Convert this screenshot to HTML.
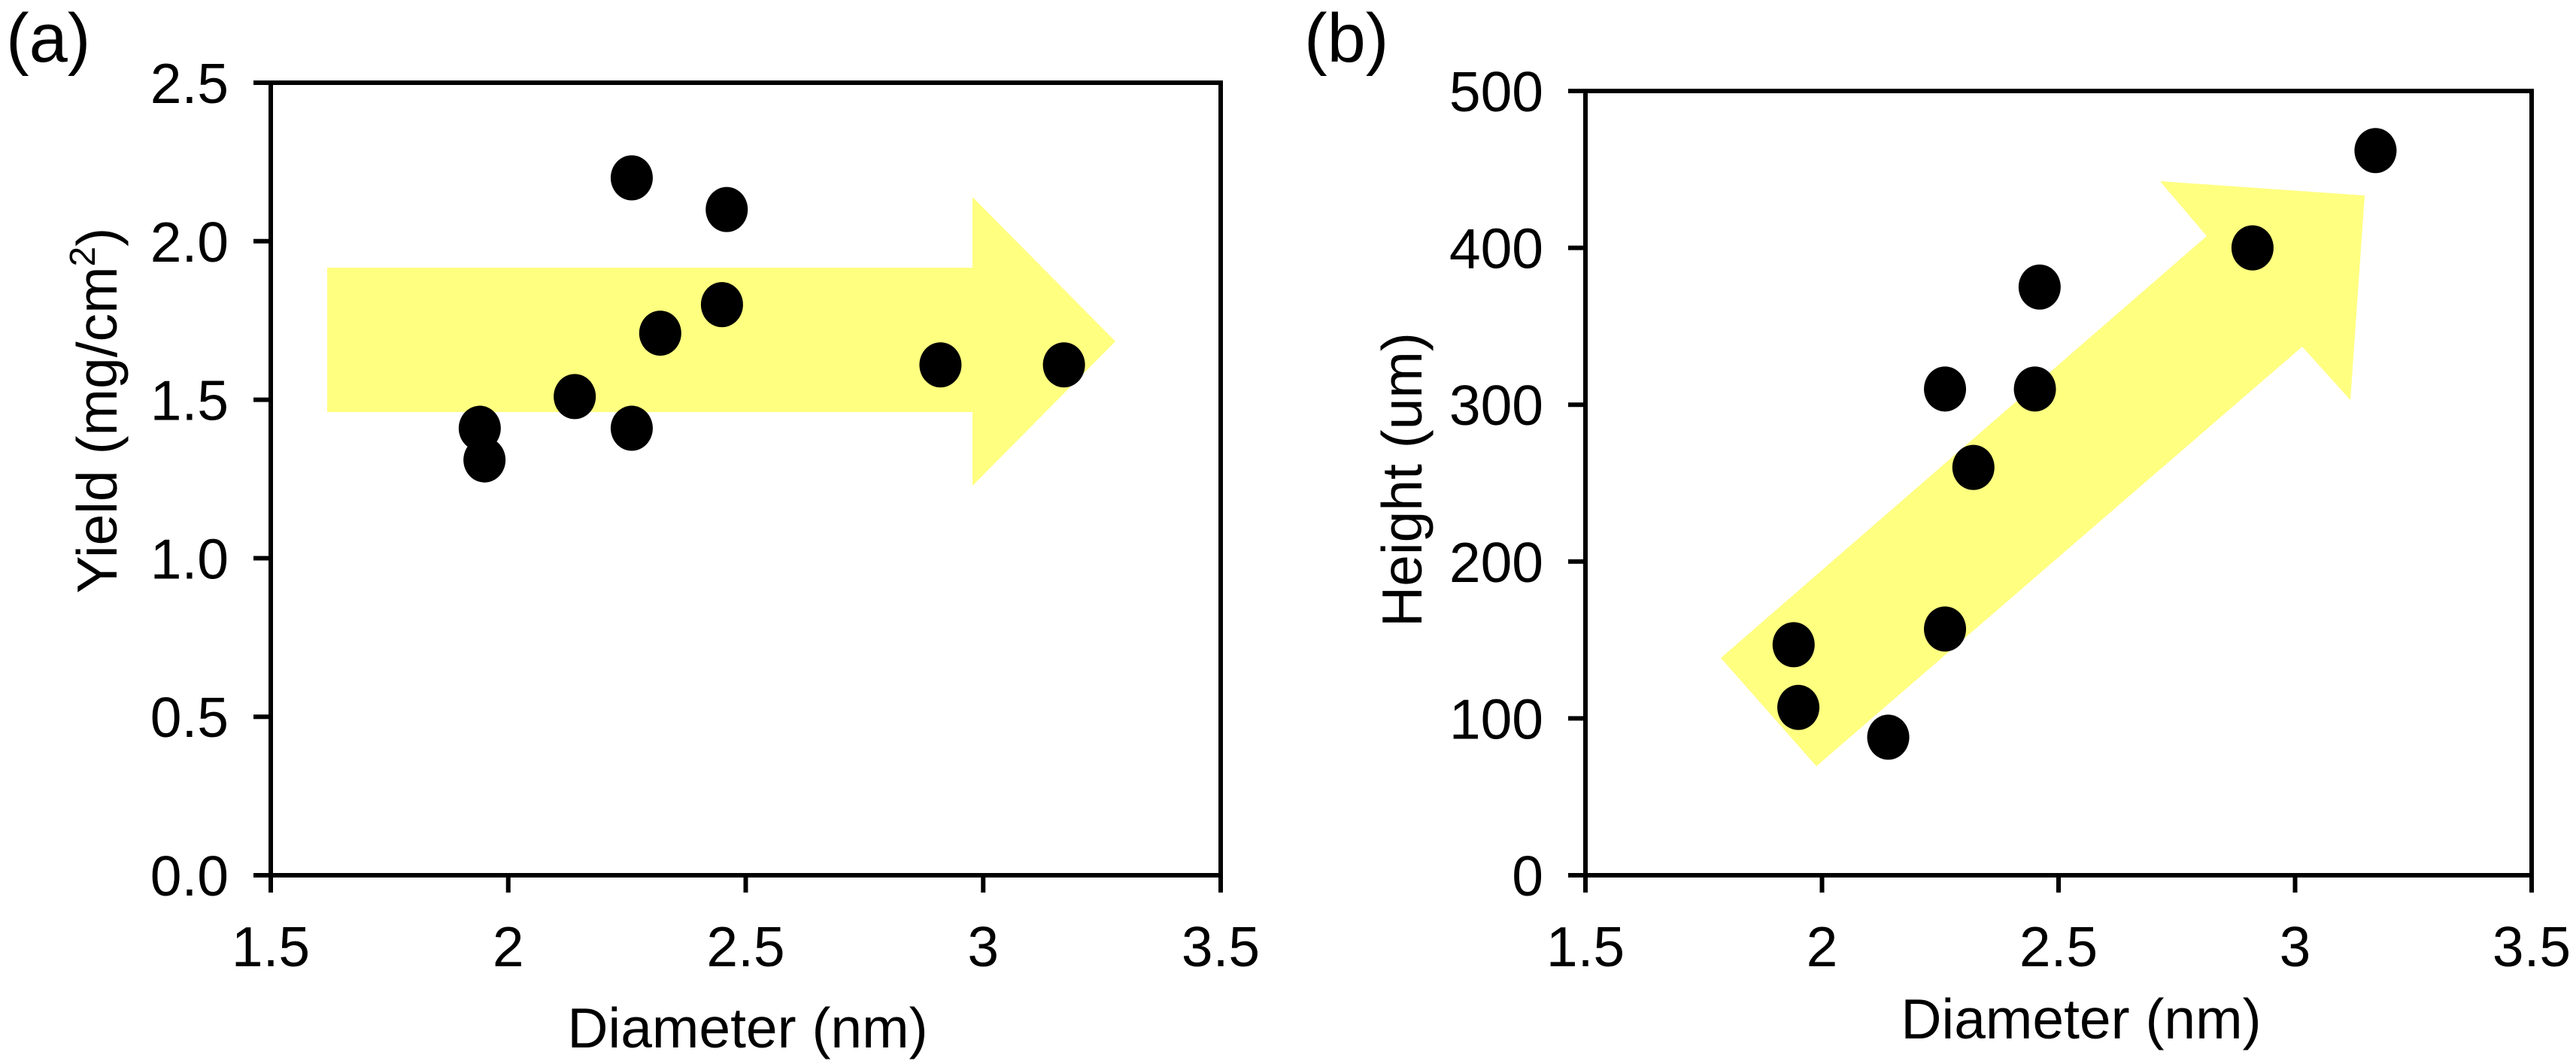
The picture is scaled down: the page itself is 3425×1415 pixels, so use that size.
<!DOCTYPE html>
<html><head><meta charset="utf-8"><style>
html,body{margin:0;padding:0;background:#fff;}
svg text{font-family:"Liberation Sans",Arial,sans-serif;fill:#000;}
</style></head><body>
<svg id="fig" width="3425" height="1410" viewBox="0 0 3425 1410" xmlns="http://www.w3.org/2000/svg">
<g id="pa"></g>
<g id="pb"></g>
</svg>
<script>
const diameters = [1.94, 1.95, 2.14, 2.26, 2.26, 2.32, 2.45, 2.46, 2.91, 3.17];
const yieldVals = [1.41, 1.31, 1.51, 2.20, 1.41, 1.71, 1.80, 2.10, 1.61, 1.61];
const heightDiam = [1.94, 1.95, 2.14, 2.26, 2.26, 2.32, 2.45, 2.46, 2.91, 3.17];
const heightVals = [147, 107, 88, 157, 310, 260, 310, 375, 400, 462];
const xTicks = [1.5, 2, 2.5, 3, 3.5];
const xTickLabels = ["1.5", "2", "2.5", "3", "3.5"];
const yTicksA = [0, 0.5, 1.0, 1.5, 2.0, 2.5];
const yTickLabelsA = ["0.0", "0.5", "1.0", "1.5", "2.0", "2.5"];
const yTicksB = [0, 100, 200, 300, 400, 500];
const yTickLabelsB = ["0", "100", "200", "300", "400", "500"];

const NS = "http://www.w3.org/2000/svg";
function mk(parent, tag, attrs, txt){
  const e = document.createElementNS(NS, tag);
  for (const k in attrs) e.setAttribute(k, attrs[k]);
  if (txt !== undefined) e.textContent = txt;
  parent.appendChild(e);
  return e;
}

function panel(g, cfg){
  const sx = v => cfg.x0 + (v - cfg.xmin) / (cfg.xmax - cfg.xmin) * (cfg.x1 - cfg.x0);
  const sy = v => cfg.y0 - (v - cfg.ymin) / (cfg.ymax - cfg.ymin) * (cfg.y0 - cfg.y1);
  const ar = mk(g, 'polygon', {points: cfg.arrow.map(p => p.join(',')).join(' '), fill: '#ffff80'});
  
  
  const fr = mk(g, 'rect', {x: cfg.x0, y: cfg.y1, width: cfg.x1 - cfg.x0, height: cfg.y0 - cfg.y1, fill: 'none', stroke: '#000', 'stroke-width': 6});
  
  
  xTicks.forEach((t, i) => {
    const x = sx(t);
    const tk = mk(g, 'line', {x1: x, x2: x, y1: cfg.y0, y2: cfg.y0 + 23, stroke: '#000', 'stroke-width': 6});
    
    
    const lb = mk(g, 'text', {x: x, y: cfg.y0 + 121, 'font-size': 75, 'text-anchor': 'middle'}, xTickLabels[i]);
    
    
  });
  cfg.yTicks.forEach((t, i) => {
    const y = sy(t);
    const tk = mk(g, 'line', {x1: cfg.x0 - 23, x2: cfg.x0, y1: y, y2: y, stroke: '#000', 'stroke-width': 6});
    
    
    const lb = mk(g, 'text', {x: cfg.x0 - 56, y: y + 27, 'font-size': 75, 'text-anchor': 'end'}, cfg.yLabels[i]);
    
    
  });
  cfg.xs.forEach((d, i) => {
    const c = mk(g, 'ellipse', {cx: sx(d), cy: sy(cfg.ys[i]), rx: 28, ry: 30, fill: '#000'});
    
    
  });
  const xt = mk(g, 'text', {x: cfg.xtX, y: cfg.xtY, 'font-size': 75, 'text-anchor': 'middle'}, 'Diameter (nm)');
  
  
  const yt = mk(g, 'text', {x: 0, y: 0, 'font-size': 75, 'text-anchor': 'middle', transform: `translate(${cfg.ytX},${cfg.ytY}) rotate(-90)`});
  
  
  yt.innerHTML = cfg.ytitle;
  const pl = mk(g, 'text', {x: cfg.plX, y: 82, 'font-size': 92}, cfg.plabel);
  
  
}

panel(document.getElementById('pa'), {
  x0: 360, x1: 1623, y0: 1164, y1: 110, xmin: 1.5, xmax: 3.5, ymin: 0, ymax: 2.5,
  yTicks: yTicksA, yLabels: yTickLabelsA, xs: diameters, ys: yieldVals,
  arrow: [[435,356],[1293,356],[1293,262],[1483,454],[1293,646],[1293,548],[435,548]],
  xtX: 994, xtY: 1393, ytX: 155, ytY: 546,
  ytitle: 'Yield (mg/cm<tspan font-size="48" dy="-29">2</tspan><tspan dy="29">)</tspan>',
  plX: 8, plabel: '(a)'
});
panel(document.getElementById('pb'), {
  x0: 2108, x1: 3366, y0: 1164, y1: 121, xmin: 1.5, xmax: 3.5, ymin: 0, ymax: 500,
  yTicks: yTicksB, yLabels: yTickLabelsB, xs: heightDiam, ys: heightVals,
  arrow: [[2288,875],[2415,1019],[3061,461],[3125,532],[3144,260],[2872,241],[2934,314]],
  xtX: 2767, xtY: 1381, ytX: 1890, ytY: 638,
  ytitle: 'Height (um)',
  plX: 1734, plabel: '(b)'
});
</script>
</body></html>
